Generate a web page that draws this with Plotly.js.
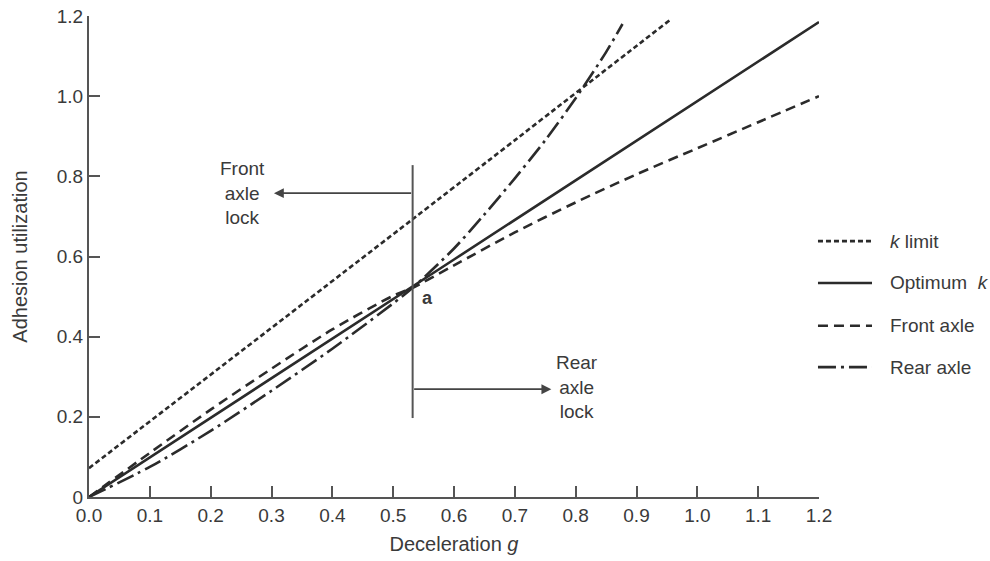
<!DOCTYPE html>
<html>
<head>
<meta charset="utf-8">
<script src="https://cdn.plot.ly/plotly-3.0.1.min.js"></script>
<style>html,body{margin:0;padding:0;background:#fff;}#chart{width:990px;height:561px;}</style>
</head>
<body>
<div id="chart"></div>
<script>
// ---- data ----
const kLimitX = [0.0, 0.532, 0.955];
const kLimitY = [0.072, 0.693, 1.19];

const optimumX = [0.0, 0.6, 1.2];
const optimumY = [0.0, 0.5925, 1.185];

const frontX = [0.0, 0.1, 0.2, 0.3, 0.4, 0.5, 0.532, 0.6, 0.7, 0.8, 0.9, 1.0, 1.1, 1.2];
const frontY = [0.0, 0.11, 0.218, 0.32, 0.418, 0.502, 0.522, 0.578, 0.66, 0.735, 0.805, 0.87, 0.935, 1.0];

const rearX = [0.0, 0.1, 0.2, 0.3, 0.4, 0.5, 0.532, 0.6, 0.65, 0.7, 0.75, 0.8, 0.85, 0.877];
const rearY = [0.0, 0.075, 0.165, 0.265, 0.37, 0.483, 0.522, 0.62, 0.705, 0.795, 0.89, 0.995, 1.11, 1.18];

const xTickVals = [0, 0.1, 0.2, 0.3, 0.4, 0.5, 0.6, 0.7, 0.8, 0.9, 1.0, 1.1, 1.2];
const xTickText = ["0.0","0.1","0.2","0.3","0.4","0.5","0.6","0.7","0.8","0.9","1.0","1.1","1.2"];
const yTickVals = [0, 0.2, 0.4, 0.6, 0.8, 1.0, 1.2];
const yTickText = ["0","0.2","0.4","0.6","0.8","1.0","1.2"];

const seriesNames = ["<i>k</i> limit", "Optimum  <i>k</i>", "Front axle", "Rear axle"];

// ---- styling ----
const FONT = "Liberation Sans, Arial, Helvetica, sans-serif";
const TXT = "#3a3a3a";
const LINE = "#2b2b2b";
const dashes = ["5px,3px", "solid", "10px,6px", "18px,5px,3px,5px"];

const xs = [kLimitX, optimumX, frontX, rearX];
const ys = [kLimitY, optimumY, frontY, rearY];

const traces = xs.map((x, i) => ({
  type: "scatter", mode: "lines", x: x, y: ys[i], name: seriesNames[i],
  line: {color: LINE, width: 2.6, dash: dashes[i], shape: "spline", smoothing: 0.8},
  cliponaxis: false, showlegend: false, hoverinfo: "skip"
}));

// annotation geometry (point a and axle-lock guides)
const lockX = 0.532;
const shapes = [
  {type: "line", xref: "x", yref: "y", x0: lockX, x1: lockX, y0: 0.197, y1: 0.828,
   line: {color: "#555", width: 2}}
];

// legend drawn beside the plot
const legRowsY = [0.532, 0.445, 0.356, 0.270];
legRowsY.forEach((py, i) => {
  shapes.push({type: "line", xref: "paper", yref: "paper", x0: 0.9986, x1: 1.0726, y0: py, y1: py,
    line: {color: LINE, width: 2.6, dash: dashes[i]}});
});

const annotations = [
  {x: 0.304, y: 0.758, ax: lockX, ay: 0.758, xref: "x", yref: "y", axref: "x", ayref: "y",
   text: "", showarrow: true, arrowhead: 2, arrowsize: 1.1, arrowwidth: 1.8, arrowcolor: "#444"},
  {x: 0.76, y: 0.269, ax: lockX, ay: 0.269, xref: "x", yref: "y", axref: "x", ayref: "y",
   text: "", showarrow: true, arrowhead: 2, arrowsize: 1.1, arrowwidth: 1.8, arrowcolor: "#444"},
  {x: 0.253, y: 0.758, xref: "x", yref: "y", text: "Front<br>axle<br>lock", showarrow: false,
   font: {family: FONT, size: 19, color: TXT}, align: "center"},
  {x: 0.803, y: 0.275, xref: "x", yref: "y", text: "Rear<br>axle<br>lock", showarrow: false,
   font: {family: FONT, size: 19, color: TXT}, align: "center"},
  {x: 0.556, y: 0.497, xref: "x", yref: "y", text: "<b>a</b>", showarrow: false,
   font: {family: FONT, size: 18, color: TXT}}
];
legRowsY.forEach((py, i) => {
  annotations.push({x: 1.0945, y: py, xref: "paper", yref: "paper", xanchor: "left", yanchor: "middle",
    text: seriesNames[i], showarrow: false, font: {family: FONT, size: 19, color: TXT}});
});

const layout = {
  width: 990, height: 561,
  margin: {l: 89, r: 171, t: 16, b: 64},
  paper_bgcolor: "#fff", plot_bgcolor: "#fff",
  font: {family: FONT, size: 19, color: TXT},
  showlegend: false,
  xaxis: {
    range: [0, 1.2], tickvals: xTickVals, ticktext: xTickText,
    ticks: "inside", ticklen: 11, tickwidth: 2, tickcolor: "#555",
    showline: true, linecolor: "#555", linewidth: 2, showgrid: false, zeroline: false,
    tickfont: {family: FONT, size: 19, color: TXT},
    title: {text: "Deceleration <i>g</i>", font: {family: FONT, size: 20, color: TXT}, standoff: 12},
    automargin: false
  },
  yaxis: {
    range: [0, 1.2], tickvals: yTickVals, ticktext: yTickText,
    ticks: "inside", ticklen: 11, tickwidth: 2, tickcolor: "#555",
    showline: true, linecolor: "#555", linewidth: 2, showgrid: false, zeroline: false,
    tickfont: {family: FONT, size: 19, color: TXT},
    title: {text: "Adhesion utilization", font: {family: FONT, size: 20, color: TXT}, standoff: 24},
    automargin: false
  },
  shapes: shapes,
  annotations: annotations
};

Plotly.newPlot("chart", traces, layout, {displayModeBar: false, staticPlot: true});
</script>
</body>
</html>
